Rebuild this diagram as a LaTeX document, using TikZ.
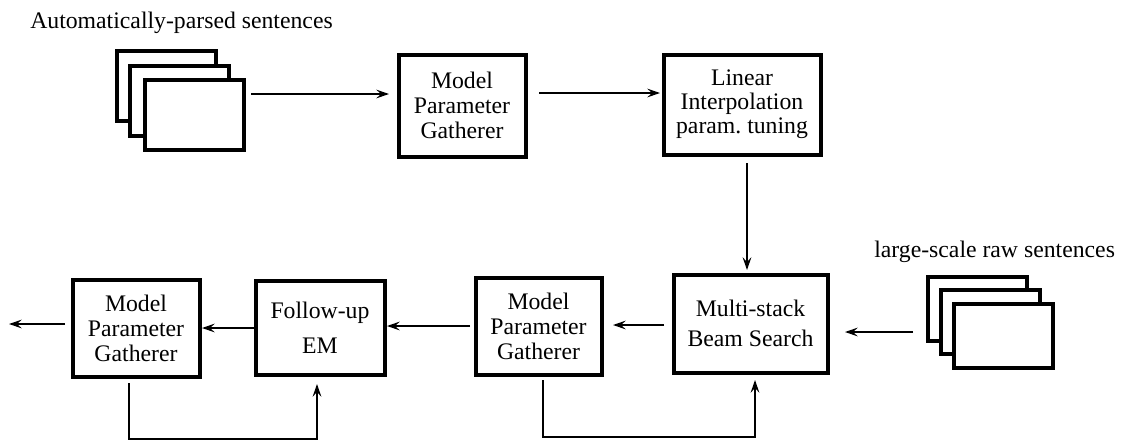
\documentclass[tikz,border=0pt]{standalone}
\usepackage{fontspec}
\setmainfont{Liberation Serif}
\usetikzlibrary{arrows.meta}
\newdimen\pxu \pxu=0.75pt

\begin{document}
\begin{tikzpicture}[x=0.75pt,y=-0.75pt,
  box/.style={draw, line width=3pt, fill=white, align=center,
    inner sep=0pt, outer sep=0pt, font=\rmfamily\fontsize{17.8}{18.75}\selectfont},
  sheet/.style={draw, line width=3pt, fill=white, inner sep=0pt,
    outer sep=0pt, minimum width=99\pxu},
  arr/.style={line width=2.2pt, -{Stealth[length=9.5pt,width=6.5pt,inset=3.5pt]}},
  lbl/.style={inner sep=0pt, anchor=base west,
    font=\rmfamily\fontsize{17.8}{18.75}\selectfont}]

% canvas
\path[use as bounding box, fill=white] (0,0) rectangle (1125,440);

% input corpora
\node[lbl] (srcA) at (30,28) {Automatically-parsed sentences};
\node[sheet, minimum height=70\pxu] (lback)  at (166,85.5) {};
\node[sheet, minimum height=70\pxu] (lmid)   at (179.5,100.5) {};
\node[sheet, minimum height=70\pxu] (lfront) at (194,115) {};

\node[lbl] (srcB) at (874,257) {large-scale raw sentences};
\node[sheet, minimum height=64\pxu] (rback)  at (977,308.5) {};
\node[sheet, minimum height=64\pxu] (rmid)   at (990,322) {};
\node[sheet, minimum height=64\pxu] (rfront) at (1003.5,336) {};

% processing stages
\node[box, minimum width=127\pxu, minimum height=102\pxu] (mpg1) at (462,105.5)
  {Model\\Parameter\\Gatherer};
\node[box, minimum width=157\pxu, minimum height=100\pxu,
  font=\rmfamily\fontsize{17.8}{18}\selectfont] (lipt) at (742,104.5)
  {Linear\\Interpolation\\param.\ tuning};
\node[box, minimum width=154\pxu, minimum height=98\pxu,
  font=\rmfamily\fontsize{17.8}{22.5}\selectfont] (ms) at (750.5,323.5)
  {Multi-stack\\Beam Search};
\node[box, minimum width=126\pxu, minimum height=97\pxu] (mpg2) at (538.5,326)
  {Model\\Parameter\\Gatherer};
\node[box, minimum width=129\pxu, minimum height=94\pxu,
  font=\rmfamily\fontsize{17.8}{26}\selectfont] (fe) at (320,327.5)
  {Follow-up\\EM};
\node[box, minimum width=127\pxu, minimum height=97\pxu] (lmpg) at (136,328)
  {Model\\Parameter\\Gatherer};
\coordinate (out) at (9,324);

% data flow
\draw[arr] ([shift={(7.5,-21)}]lfront.east) -- ([shift={(-9.5,-11.5)}]mpg1.west);
\draw[arr] ([shift={(13.5,-12.5)}]mpg1.east) -- ([shift={(-3.5,-11.5)}]lipt.west);
\draw[arr] ([shift={(5,8.5)}]lipt.south) -- ([shift={(-3.5,-4.5)}]ms.north);
\draw[arr] ([shift={(-14.5,23.5)}]rback.west) -- ([shift={(17.5,8.5)}]ms.east);
\draw[arr] ([shift={(-9.5,1.5)}]ms.west) -- ([shift={(11.5,-1)}]mpg2.east);
\draw[arr] ([shift={(-5.5,0)}]mpg2.west) -- ([shift={(2.5,-1.5)}]fe.east);
\draw[arr] ([shift={(-1.5,0.5)}]fe.west) -- ([shift={(2.5,0)}]lmpg.east);
\draw[arr] ([shift={(-7.5,-4)}]lmpg.west) -- (out);

% feedback loops
\draw[arr] ([shift={(4.5,5.5)}]mpg2.south) -- ++(0,57) -| ([shift={(4.5,7.5)}]ms.south);
\draw[arr] ([shift={(-7,6.5)}]lmpg.south) -- ++(0,56) -| ([shift={(-3,9.5)}]fe.south);
\end{tikzpicture}
\end{document}
